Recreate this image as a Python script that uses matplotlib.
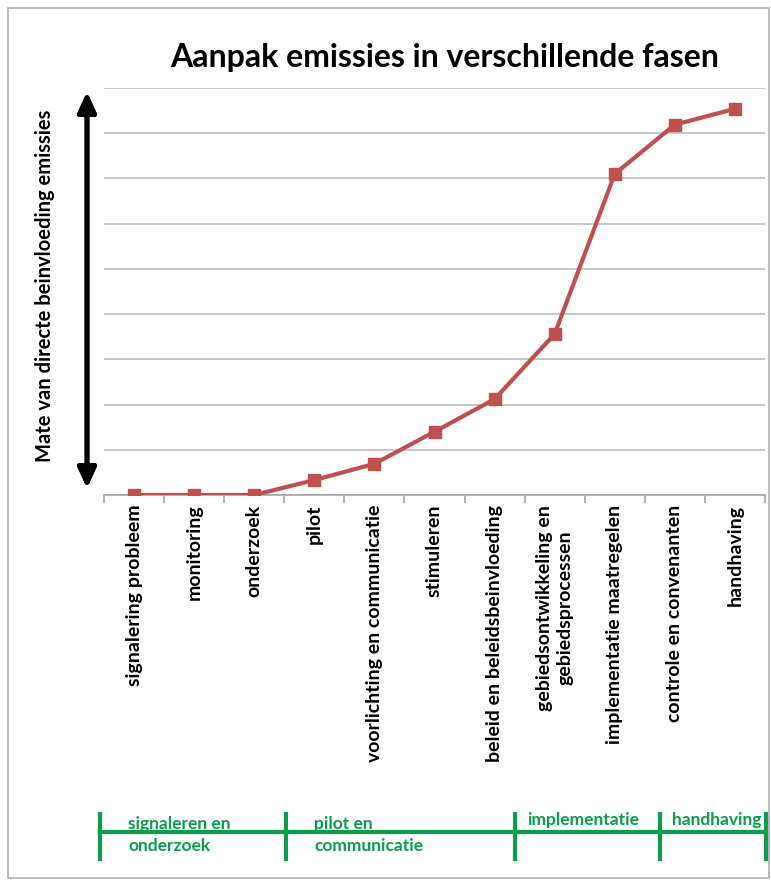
import numpy as np
import matplotlib.pyplot as plt
from matplotlib.patches import Rectangle

# data
categories = [
    "signalering probleem", "monitoring", "onderzoek", "pilot",
    "voorlichting en communicatie", "stimuleren", "beleid en beleidsbeinvloeding",
    "gebiedsontwikkeling en\ngebiedsprocessen", "implementatie maatregelen",
    "controle en convenanten", "handhaving",
]
influence = [0, 0, 0, 0.33, 0.69, 1.40, 2.12, 3.56, 7.10, 8.19, 8.54]

# phase bar at the bottom (figure pixel x of the separators)
phase_edges_px = [100, 286, 515, 660, 766]
phase_labels = ["signaleren en\nonderzoek", "pilot en\ncommunicatie", "implementatie", "handhaving"]

W, H = 771, 882
RED = "#c0504d"
GREEN = "#0a9e4c"

plt.rcParams['font.family'] = ['Lato', 'DejaVu Sans']

fig = plt.figure(figsize=(W / 100, H / 100), dpi=100)

def fx(px): return px / W
def fy(py): return 1 - py / H

# chart border
fig.patches.append(Rectangle((fx(8), fy(878)), fx(769) - fx(8), fy(8) - fy(878),
                             transform=fig.transFigure, fill=False, ec="#b0b0b0", lw=1.2))

ax = fig.add_axes([fx(104), fy(495), fx(765) - fx(104), fy(88) - fy(495)])
x = np.arange(len(categories))
ax.plot(x, influence, color=RED, lw=3, marker="s", ms=8, zorder=3)

ax.set_xlim(-0.5, len(categories) - 0.5)
ax.set_ylim(0, 9)
ax.set_yticks(np.arange(0, 10))
ax.yaxis.grid(True, color="#bfbfbf", lw=1.2)
ax.set_axisbelow(True)
ax.tick_params(axis="y", left=False, labelleft=False)
for s in ["left", "right", "top"]:
    ax.spines[s].set_visible(False)
ax.spines["bottom"].set_color("#a6a6a6")
ax.spines["bottom"].set_linewidth(1.2)

ax.set_xticks(x)
ax.set_xticklabels(categories, rotation=90, fontsize=14, fontweight="bold",
                   ha="center", va="top", multialignment="center", linespacing=1.25)
ax.tick_params(axis="x", which="major", length=0, pad=7)
ax.set_xticks(np.arange(-0.5, len(categories)), minor=True)
ax.tick_params(axis="x", which="minor", length=6, color="#a6a6a6", width=1.2)

fig.text(fx(445), fy(57), "Aanpak emissies in verschillende fasen", ha="center", va="center",
         fontsize=23, fontweight="bold")

fig.text(fx(45), fy(286), "Mate van directe beinvloeding emissies", rotation=90,
         ha="center", va="center", fontsize=14.5, fontweight="bold")

fig.add_artist(plt.annotate("", xy=(fx(87), fy(92)), xytext=(fx(87), fy(488)),
                            xycoords="figure fraction", textcoords="figure fraction",
                            arrowprops=dict(arrowstyle="<|-|>,head_length=1.2,head_width=0.55",
                                            lw=3.5, color="black", shrinkA=0, shrinkB=0)))

# phase timeline
fig.add_artist(plt.Line2D([fx(phase_edges_px[0]), fx(phase_edges_px[-1])], [fy(832), fy(832)],
                          color=GREEN, lw=3))
for e in phase_edges_px:
    fig.add_artist(plt.Line2D([fx(e), fx(e)], [fy(814), fy(859)], color=GREEN, lw=3))
for i, lab in enumerate(phase_labels):
    left = phase_edges_px[i]
    if "\n" in lab:
        fig.text(fx(left + 28), fy(835), lab, ha="left", va="center", color=GREEN,
                 fontsize=12.5, fontweight="bold", linespacing=1.45)
    else:
        fig.text(fx(left + 12), fy(820), lab, ha="left", va="center", color=GREEN,
                 fontsize=12.5, fontweight="bold")

fig.savefig("out.png", dpi=100)
